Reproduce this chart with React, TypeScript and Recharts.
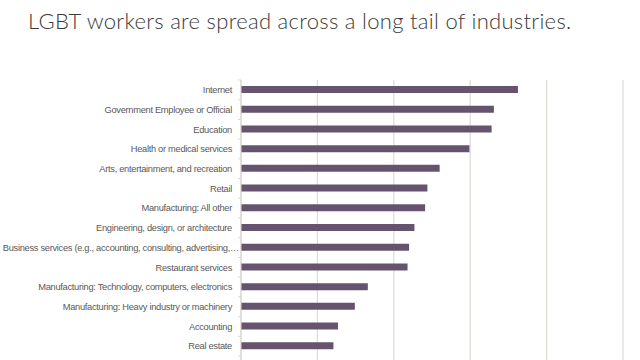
import { BarChart, Bar, XAxis, YAxis, CartesianGrid } from 'recharts';

const industries = [
  'Internet',
  'Government Employee or Official',
  'Education',
  'Health or medical services',
  'Arts, entertainment, and recreation',
  'Retail',
  'Manufacturing: All other',
  'Engineering, design, or architecture',
  'Business services (e.g., accounting, consulting, advertising,…',
  'Restaurant services',
  'Manufacturing: Technology, computers, electronics',
  'Manufacturing: Heavy industry or machinery',
  'Accounting',
  'Real estate',
];

// share of LGBT workers, %
const shares = [7.25, 6.62, 6.56, 5.98, 5.2, 4.88, 4.82, 4.54, 4.4, 4.36, 3.32, 2.98, 2.54, 2.42];

const xTicks = [0, 2, 4, 6, 8, 10];

const data = industries.map((name, i) => ({ name, value: shares[i] }));

const CHART_W = 640;
const CHART_H = 380;
const TOP = 80;
const PAD_BOTTOM = 24;
const AXIS_W = 241;
const TICK_SIZE = 3;
const TICK_MARGIN = 6;
const band = (CHART_H - TOP - PAD_BOTTOM) / industries.length;

const IndustryTick = (props: any) => {
  const { x, y, payload, index } = props;
  const lx = x + TICK_MARGIN;
  // truncated labels run their ellipsis up to the axis
  const truncated = String(payload.value).endsWith('…');
  return (
    <g>
      <line x1={lx} x2={lx + TICK_SIZE} y1={y - band / 2} y2={y - band / 2} stroke="#d6d6d6" />
      {index === industries.length - 1 && (
        <line x1={lx} x2={lx + TICK_SIZE} y1={y + band / 2} y2={y + band / 2} stroke="#d6d6d6" />
      )}
      <text
        x={x}
        y={y}
        dx={truncated ? 7 : 0}
        dy={3.3}
        textAnchor="end"
        fill="#595959"
        fontSize={9.3}
        letterSpacing={-0.3}
        fontFamily="'Liberation Sans', Arial, sans-serif"
      >
        {payload.value}
      </text>
    </g>
  );
};

export default function App() {
  return (
    <div
      style={{
        position: 'fixed',
        left: 0,
        top: 0,
        width: 640,
        height: 360,
        overflow: 'hidden',
        background: '#fff',
      }}
    >
      <div
        style={{
          position: 'absolute',
          left: 28,
          top: 8,
          fontFamily: 'Lato, sans-serif',
          fontWeight: 300,
          fontSize: 22,
          letterSpacing: 0.3,
          lineHeight: '26px',
          color: '#3a3a3a',
          whiteSpace: 'nowrap',
        }}
      >
        LGBT workers are spread across a long tail of industries.
      </div>
      <div style={{ position: 'absolute', left: 0, top: 0 }}>
        <BarChart
          width={CHART_W}
          height={CHART_H}
          data={data}
          layout="vertical"
          margin={{ top: TOP, right: 17, bottom: 0, left: 0 }}
        >
          <CartesianGrid horizontal={false} stroke="#dedbd5" strokeWidth={1.2} />
          <XAxis type="number" domain={[0, 10]} ticks={xTicks} hide />
          <YAxis
            type="category"
            dataKey="name"
            width={AXIS_W}
            interval={0}
            tickSize={TICK_SIZE}
            tickMargin={TICK_MARGIN}
            tickLine={false}
            axisLine={{ stroke: '#d6d6d6' }}
            padding={{ top: 0, bottom: PAD_BOTTOM }}
            tick={<IndustryTick />}
          />
          <Bar dataKey="value" fill="#66546f" barSize={7} isAnimationActive={false} />
        </BarChart>
      </div>
    </div>
  );
}
